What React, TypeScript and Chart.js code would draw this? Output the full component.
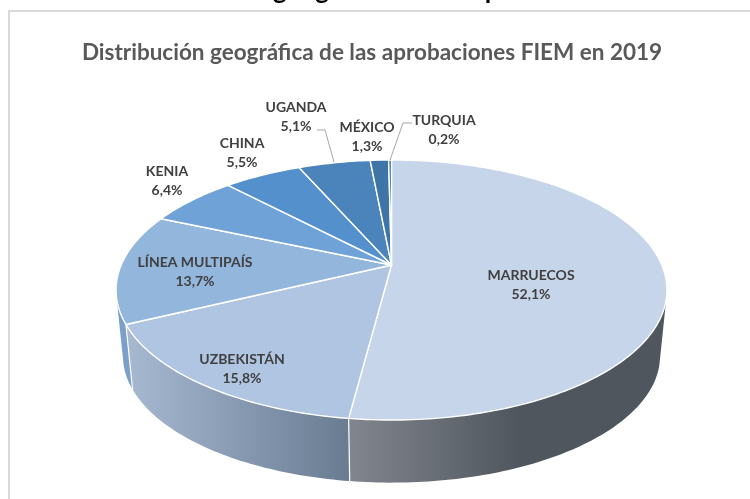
import React, { useEffect, useRef } from "react";
import { Chart, registerables } from "chart.js";

Chart.register(...registerables);

const categories = ["MARRUECOS", "UZBEKISTÁN", "LÍNEA MULTIPAÍS", "KENIA", "CHINA", "UGANDA", "MÉXICO", "TURQUIA"];
const shares = [52.1, 15.8, 13.7, 6.4, 5.5, 5.1, 1.3, 0.2];
const shareLabels = ["52,1%", "15,8%", "13,7%", "6,4%", "5,5%", "5,1%", "1,3%", "0,2%"];
const titleText = "Distribución geográfica de las aprobaciones FIEM en 2019";
const headingText = "Distribución geográfica de las aprobaciones";

const topColors = ["#c6d5e9", "#afc5e2", "#93b6dd", "#6fa2d6", "#5490cb", "#4b84ba", "#3f74a6", "#2e6aa3"];
const labelAnchors: [number, number][] = [
  [531, 275.5], [242, 359.5], [195, 262.5], [167, 171.5], [242, 143.5], [296, 107.5], [367, 127.5], [444, 120.5],
];

// perspective of the tilted disc
const PX = 391.5, PY = 265, K = -0.1923, A = 125.2, B = 270.3, SHRINK = 0.975, DEPTH = 66.5;

function project(theta: number, bottom: boolean): [number, number] {
  const u = Math.sin(theta), v = -Math.cos(theta);
  const d = 1 + K * v;
  const s = bottom ? SHRINK : 1;
  return [PX + (s * B * u) / d, PY + (bottom ? DEPTH : 0) + (s * A * v) / d];
}

const toTop = (a: number) => a + Math.PI / 2;
const rad = (d: number) => (d * Math.PI) / 180;

function sideFill(ctx: CanvasRenderingContext2D, i: number) {
  if (i === 0) {
    const g = ctx.createLinearGradient(348, 0, 660, 0);
    g.addColorStop(0, "#81868f");
    g.addColorStop(0.55, "#50565e");
    g.addColorStop(1, "#50565e");
    return g;
  }
  if (i === 1) {
    const g = ctx.createLinearGradient(127, 0, 348, 0);
    g.addColorStop(0, "#a6b9d1");
    g.addColorStop(1, "#6a7c92");
    return g;
  }
  return "#7b9fc9";
}

const pie3d = {
  id: "pie3d",
  beforeDatasetDraw(chart: any) {
    const ctx: CanvasRenderingContext2D = chart.ctx;
    const arcs = chart.getDatasetMeta(0).data;
    const lo = rad(105), hi = rad(255);
    ctx.save();
    // side walls
    arcs.forEach((arc: any, i: number) => {
      const a0 = Math.max(toTop(arc.startAngle), lo);
      const a1 = Math.min(toTop(arc.endAngle), hi);
      if (a1 <= a0) return;
      const n = Math.max(2, Math.ceil((a1 - a0) / rad(1)));
      ctx.beginPath();
      for (let k = 0; k <= n; k++) {
        const p = project(a0 + ((a1 - a0) * k) / n, false);
        k ? ctx.lineTo(p[0], p[1]) : ctx.moveTo(p[0], p[1]);
      }
      for (let k = n; k >= 0; k--) {
        const p = project(a0 + ((a1 - a0) * k) / n, true);
        ctx.lineTo(p[0], p[1]);
      }
      ctx.closePath();
      ctx.fillStyle = sideFill(ctx, i);
      ctx.fill();
    });
    // white seams between walls
    ctx.strokeStyle = "#ffffff";
    ctx.lineWidth = 1.2;
    arcs.forEach((arc: any) => {
      const t = toTop(arc.endAngle);
      if (t <= lo || t >= hi) return;
      const p = project(t, false), q = project(t, true);
      ctx.beginPath();
      ctx.moveTo(p[0], p[1]);
      ctx.lineTo(q[0], q[1]);
      ctx.stroke();
    });
    // top faces
    arcs.forEach((arc: any, i: number) => {
      const a0 = toTop(arc.startAngle), a1 = toTop(arc.endAngle);
      const n = Math.max(2, Math.ceil((a1 - a0) / rad(1)));
      ctx.beginPath();
      ctx.moveTo(PX, PY);
      for (let k = 0; k <= n; k++) {
        const p = project(a0 + ((a1 - a0) * k) / n, false);
        ctx.lineTo(p[0], p[1]);
      }
      ctx.closePath();
      ctx.fillStyle = topColors[i];
      ctx.fill();
      ctx.strokeStyle = "#ffffff";
      ctx.lineWidth = 1.4;
      ctx.lineJoin = "round";
      ctx.stroke();
    });
    ctx.restore();
    return false;
  },
  afterDraw(chart: any) {
    const ctx: CanvasRenderingContext2D = chart.ctx;
    ctx.save();
    // frame
    ctx.strokeStyle = "#d9d9d9";
    ctx.lineWidth = 2;
    ctx.beginPath();
    ctx.moveTo(9, 499);
    ctx.lineTo(9, 11);
    ctx.lineTo(750, 11);
    ctx.stroke();
    // heading cut by the top edge
    ctx.fillStyle = "#000000";
    ctx.font = "bold 26px Lato";
    ctx.textAlign = "left";
    ctx.textBaseline = "alphabetic";
    const before = ctx.measureText("Distribución ").width;
    ctx.fillText(headingText, 273 - before, -1);
    // title
    ctx.fillStyle = "#595959";
    ctx.font = "bold 22.5px Lato";
    ctx.textAlign = "center";
    ctx.textBaseline = "middle";
    ctx.fillText(titleText, 372, 52.5);
    // leader lines
    ctx.strokeStyle = "#a6a6a6";
    ctx.lineWidth = 1;
    ctx.beginPath();
    ctx.moveTo(317, 130);
    ctx.lineTo(325, 130);
    ctx.lineTo(334, 162);
    ctx.moveTo(412, 123);
    ctx.lineTo(403, 123);
    ctx.lineTo(390, 160);
    ctx.stroke();
    // data labels
    ctx.fillStyle = "#404040";
    ctx.font = "bold 14px Lato";
    categories.forEach((name, i) => {
      const [x, y] = labelAnchors[i];
      ctx.fillText(name, x, y);
      ctx.fillText(shareLabels[i], x, y + 19);
    });
    ctx.restore();
  },
};

export default function App() {
  const ref = useRef<HTMLCanvasElement>(null);
  useEffect(() => {
    const chart = new Chart(ref.current!, {
      type: "pie",
      data: { labels: categories, datasets: [{ data: shares, backgroundColor: topColors }] },
      options: {
        responsive: false,
        animation: false,
        rotation: 0,
        events: [],
        plugins: { legend: { display: false }, tooltip: { enabled: false }, title: { display: false } },
      },
      plugins: [pie3d],
    } as any);
    return () => chart.destroy();
  }, []);
  return (
    <div style={{ position: "fixed", left: 0, top: 0, width: 750, height: 499, background: "#ffffff" }}>
      <canvas ref={ref} width={750} height={499} style={{ display: "block" }} />
    </div>
  );
}
